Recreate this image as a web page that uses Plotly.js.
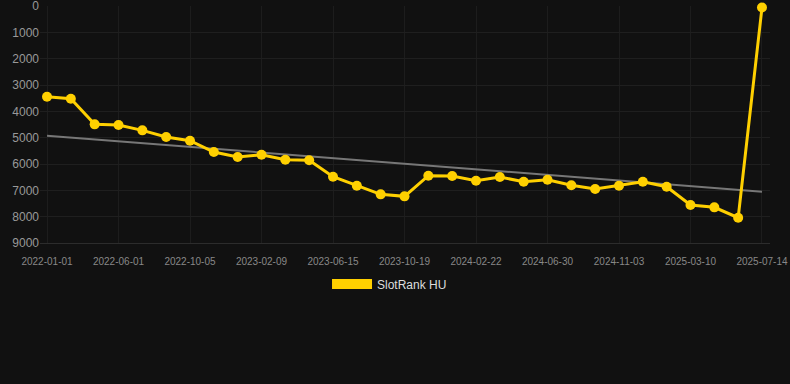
<!DOCTYPE html>
<html>
<head>
<meta charset="utf-8">
<script src="https://cdn.plot.ly/plotly-3.0.1.min.js"></script>
<style>
  html, body { margin: 0; padding: 0; background: #111111; }
  #chart { width: 790px; height: 384px; }
</style>
</head>
<body>
<div id="chart"></div>
<script>
// Rank values (one per period, index 0..30)
const rankValues = [3444, 3520, 4494, 4520, 4722, 4975, 5115, 5545, 5735, 5647, 5837, 5860,
  6482, 6824, 7152, 7228, 6445, 6457, 6635, 6495, 6673, 6597, 6810, 6950, 6825, 6673,
  6862, 7558, 7646, 8040, 60];
// Tick labels shown at every third point
const tickLabels = ["2022-01-01", "2022-06-01", "2022-10-05", "2023-02-09", "2023-06-15",
  "2023-10-19", "2024-02-22", "2024-06-30", "2024-11-03", "2025-03-10", "2025-07-14"];
// Trend line endpoints (first and last period)
const trendValues = [4926, 7052];
const seriesName = "SlotRank HU";

const xIdx = rankValues.map((_, i) => i);
const tickVals = tickLabels.map((_, i) => i * 3);
const lastIdx = rankValues.length - 1;

const gold = "#FFD000";

const traces = [
  {
    x: [0, lastIdx], y: trendValues, mode: "lines", type: "scatter",
    line: { color: "#777777", width: 2 }, showlegend: false, hoverinfo: "skip"
  },
  {
    x: xIdx, y: rankValues, mode: "lines+markers", type: "scatter", name: seriesName,
    line: { color: gold, width: 3 }, marker: { color: gold, size: 10 },
    showlegend: false, cliponaxis: false
  },
  {
    x: [null], y: [null], mode: "lines", type: "scatter", name: seriesName,
    line: { color: gold, width: 12 }, showlegend: true, hoverinfo: "skip"
  }
];

const layout = {
  width: 790, height: 384,
  paper_bgcolor: "#111111", plot_bgcolor: "#111111",
  margin: { l: 40, r: 20, t: 6, b: 141 },
  font: { family: "Liberation Sans, Arial, sans-serif", color: "#999999" },
  xaxis: {
    range: [-0.294, 30.336],
    tickvals: tickVals, ticktext: tickLabels,
    tickfont: { size: 10, color: "#888888" },
    showgrid: true, gridcolor: "#1d1d1d", gridwidth: 1,
    zeroline: false, showline: true, linecolor: "#2c2c2c", linewidth: 1,
    ticks: "outside", ticklen: 9, tickcolor: "rgba(0,0,0,0)", tickangle: 0
  },
  yaxis: {
    range: [9000, 0], dtick: 1000, tick0: 0,
    tickfont: { size: 12, color: "#999999" },
    showgrid: true, gridcolor: "#1f1f1f", gridwidth: 1,
    zeroline: false, showline: false, ticks: "", ticklen: 0,
    ticklabeloverflow: "allow"
  },
  showlegend: true,
  legend: {
    orientation: "h", x: 0.4788, xanchor: "center", y: -0.173, yanchor: "middle",
    font: { size: 12, color: "#dddddd" }, itemwidth: 40, bgcolor: "rgba(0,0,0,0)"
  }
};

Plotly.newPlot("chart", traces, layout, { displayModeBar: false, staticPlot: true });
</script>
</body>
</html>
